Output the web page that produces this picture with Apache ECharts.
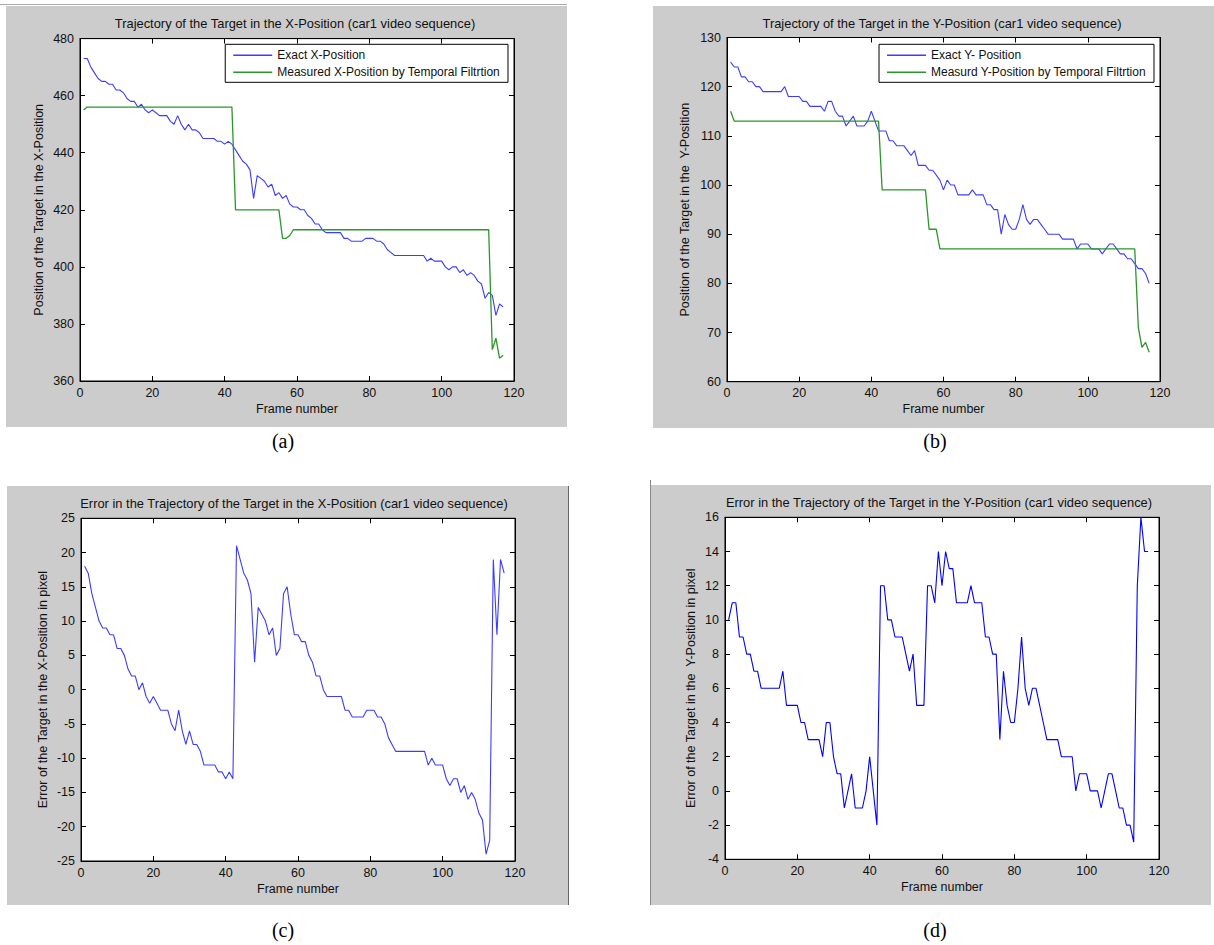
<!DOCTYPE html>
<html><head><meta charset="utf-8">
<script src="https://cdn.jsdelivr.net/npm/echarts@6/dist/echarts.min.js"></script>
<style>html,body{margin:0;padding:0;background:#fff;}#c{width:1214px;height:945px;}</style>
</head><body><div id="c"></div>
<script>
// ---------------- data ----------------
const frames = [1,2,3,4,5,6,7,8,9,10,11,12,13,14,15,16,17,18,19,20,
21,22,23,24,25,26,27,28,29,30,31,32,33,34,35,36,37,38,39,40,
41,42,43,44,45,46,47,48,49,50,51,52,53,54,55,56,57,58,59,60,
61,62,63,64,65,66,67,68,69,70,71,72,73,74,75,76,77,78,79,80,
81,82,83,84,85,86,87,88,89,90,91,92,93,94,95,96,97,98,99,100,
101,102,103,104,105,106,107,108,109,110,111,112,113,114,115,116,117];

const exactX = [473,473,470,468,466,465,465,464,464,462,
462,461,459,458,458,456,457,455,454,455,
454,453,453,453,451,450,453,450,448,450,
448,448,447,445,445,445,445,444,444,443,
444,443,441,439,437,436,434,424,432,431,
430,428,429,425,426,424,425,422,421,421,
420,420,418,417,415,415,413,412,412,412,
412,412,410,410,409,409,409,409,410,410,
410,409,409,408,406,405,404,404,404,404,
404,404,404,404,404,402,403,402,402,402,
400,399,400,400,398,399,397,398,397,395,
394,389,391,390,383,387,386];

const measuredX = [455,456,456,456,456,456,456,456,456,456,
456,456,456,456,456,456,456,456,456,456,
456,456,456,456,456,456,456,456,456,456,
456,456,456,456,456,456,456,456,456,456,
456,456,420,420,420,420,420,420,420,420,
420,420,420,420,420,410,410,411,413,413,
413,413,413,413,413,413,413,413,413,413,
413,413,413,413,413,413,413,413,413,413,
413,413,413,413,413,413,413,413,413,413,
413,413,413,413,413,413,413,413,413,413,
413,413,413,413,413,413,413,413,413,413,
413,413,413,371,375,368,369];

const exactY = [125,124,124,122,122,121,121,120,120,119,
119,119,119,119,119,120,118,118,118,118,
117,117,116,116,116,116,115,117,117,115,
114,114,112,113,114,112,112,112,113,115,
113,111,111,111,109,109,108,108,108,107,
106,107,104,104,104,103,103,102,101,99,
101,100,100,98,98,98,98,99,98,98,
98,96,96,95,95,90,94,92,91,91,
93,96,93,92,93,93,92,91,90,90,
90,90,89,89,89,89,87,88,88,88,
87,87,87,86,87,88,88,87,86,86,
85,85,84,83,83,82,80];

const measuredY = [115,113,113,113,113,113,113,113,113,113,
113,113,113,113,113,113,113,113,113,113,
113,113,113,113,113,113,113,113,113,113,
113,113,113,113,113,113,113,113,113,113,
113,113,99,99,99,99,99,99,99,99,
99,99,99,99,99,91,91,91,87,87,
87,87,87,87,87,87,87,87,87,87,
87,87,87,87,87,87,87,87,87,87,
87,87,87,87,87,87,87,87,87,87,
87,87,87,87,87,87,87,87,87,87,
87,87,87,87,87,87,87,87,87,87,
87,87,87,71,67,68,66];

const errorX = [18,17,14,12,10,9,9,8,8,6,
6,5,3,2,2,0,1,-1,-2,-1,
-2,-3,-3,-3,-5,-6,-3,-6,-8,-6,
-8,-8,-9,-11,-11,-11,-11,-12,-12,-13,
-12,-13,21,19,17,16,14,4,12,11,
10,8,9,5,6,14,15,11,8,8,
7,7,5,4,2,2,0,-1,-1,-1,
-1,-1,-3,-3,-4,-4,-4,-4,-3,-3,
-3,-4,-4,-5,-7,-8,-9,-9,-9,-9,
-9,-9,-9,-9,-9,-11,-10,-11,-11,-11,
-13,-14,-13,-13,-15,-14,-16,-15,-16,-18,
-19,-24,-22,19,8,19,17];

const errorY = [10,11,11,9,9,8,8,7,7,6,
6,6,6,6,6,7,5,5,5,5,
4,4,3,3,3,3,2,4,4,2,
1,1,-1,0,1,-1,-1,-1,0,2,
0,-2,12,12,10,10,9,9,9,8,
7,8,5,5,5,12,12,11,14,12,
14,13,13,11,11,11,11,12,11,11,
11,9,9,8,8,3,7,5,4,4,
6,9,6,5,6,6,5,4,3,3,
3,3,2,2,2,2,0,1,1,1,
0,0,0,-1,0,1,1,0,-1,-1,
-2,-2,-3,12,16,14,14];

// tick ranges [min, max, interval]
const xTicks  = [0, 120, 20];
const yTicksA = [360, 480, 20];
const yTicksB = [60, 130, 10];
const yTicksC = [-25, 25, 5];
const yTicksD = [-4, 16, 2];

const titles = [
  'Trajectory of the Target in the X-Position (car1 video sequence)',
  'Trajectory of the Target in the Y-Position (car1 video sequence)',
  'Error in the Trajectory of the Target in the X-Position (car1 video sequence)',
  'Error in the Trajectory of the Target in the Y-Position (car1 video sequence)'
];
const yNames = [
  'Position of the Target in the X-Position',
  'Position of the Target in the  Y-Position',
  'Error of the Target in the X-Position in pixel',
  'Error of the Target in the  Y-Position in pixel'
];
const xName = 'Frame number';
const panelLabels = ['(a)', '(b)', '(c)', '(d)'];
const seriesNames = ['Exact X-Position', 'Measured X-Position by Temporal Filtrtion',
  'Exact Y- Position', 'Measurd Y-Position by Temporal Filtrtion',
  'Error X', 'Error Y'];

// ---------------- layout ----------------
const FONT = '"Liberation Sans", Arial, Helvetica, sans-serif';
const TXT = '#111';
const layout = [
  { bg:[6,6,561,421],   grid:{left:80,  top:38.6,  width:434, height:342.4}, y:yTicksA, yGap:35, title:[295,23.3],  label:[283,441] },
  { bg:[653,6,561,422], grid:{left:727, top:37.5,  width:433, height:344.2}, y:yTicksB, yGap:36, title:[942,23.3],  label:[935,441] },
  { bg:[7,486,561,419], grid:{left:81,  top:518.3, width:434, height:342.7}, y:yTicksC, yGap:32, title:[294,503],   label:[283,930] },
  { bg:[650,485,561,420], grid:{left:725, top:517.3, width:434, height:342}, y:yTicksD, yGap:27.5, title:[939,502.7], label:[935,930] }
];

const grids = [], xAxes = [], yAxes = [], graphics = [];
layout.forEach((p, i) => {
  graphics.push({ type:'rect', z:-10, silent:true,
    shape:{ x:p.bg[0], y:p.bg[1], width:p.bg[2], height:p.bg[3] },
    style:{ fill:'#cccccc' } });
  graphics.push({ type:'rect', z:-9, silent:true,
    shape:{ x:p.grid.left, y:p.grid.top, width:p.grid.width, height:p.grid.height },
    style:{ fill:'#ffffff', stroke:'#000', lineWidth:1 } });
  graphics.push({ type:'text', silent:true,
    style:{ text:titles[i], x:p.title[0], y:p.title[1], align:'center', verticalAlign:'middle',
      font:'12.9px ' + FONT, fill:TXT } });
  graphics.push({ type:'text', silent:true,
    style:{ text:panelLabels[i], x:p.label[0], y:p.label[1], align:'center', verticalAlign:'middle',
      font:'20px "Liberation Serif", "Times New Roman", serif', fill:'#000' } });
  grids.push(Object.assign({ outerBoundsMode:'none', containLabel:false }, p.grid));
  const axLine = { show:true, onZero:false, lineStyle:{ color:'#000', width:1 } };
  const tick = { show:true, inside:true, length:5, lineStyle:{ color:'#000', width:1 } };
  xAxes.push({ type:'value', gridIndex:i, position:'bottom', min:xTicks[0], max:xTicks[1], interval:xTicks[2],
    axisLine:axLine, axisTick:tick, splitLine:{show:false},
    axisLabel:{ color:TXT, fontSize:12.5, fontFamily:FONT, margin:5 },
    name:xName, nameLocation:'middle', nameGap:21,
    nameTextStyle:{ color:TXT, fontSize:12.5, fontFamily:FONT } });
  xAxes.push({ type:'value', gridIndex:i, position:'top', min:xTicks[0], max:xTicks[1], interval:xTicks[2],
    axisLine:axLine, axisTick:tick, splitLine:{show:false}, axisLabel:{show:false} });
  yAxes.push({ type:'value', gridIndex:i, position:'left', min:p.y[0], max:p.y[1], interval:p.y[2],
    axisLine:axLine, axisTick:tick, splitLine:{show:false},
    axisLabel:{ color:TXT, fontSize:12.5, fontFamily:FONT, margin:6 },
    name:yNames[i], nameLocation:'middle', nameGap:p.yGap, nameRotate:90,
    nameTextStyle:{ color:TXT, fontSize:12.5, fontFamily:FONT } });
  yAxes.push({ type:'value', gridIndex:i, position:'right', min:p.y[0], max:p.y[1], interval:p.y[2],
    axisLine:axLine, axisTick:tick, splitLine:{show:false}, axisLabel:{show:false} });
});

// screenshot edge lines
graphics.push({ type:'line', silent:true, shape:{x1:0,y1:4.5,x2:567,y2:4.5}, style:{stroke:'#aaaaaa', lineWidth:1} });
graphics.push({ type:'line', silent:true, shape:{x1:568.5,y1:486,x2:568.5,y2:905}, style:{stroke:'#666666', lineWidth:1} });
graphics.push({ type:'line', silent:true, shape:{x1:650.5,y1:480,x2:650.5,y2:905}, style:{stroke:'#888888', lineWidth:1} });

const BLUE = '#3c3cff', GREEN = '#2a962a';
function mk(name, arr, gi, color, width) {
  return { name, type:'line', xAxisIndex:gi*2, yAxisIndex:gi*2,
    data: frames.map((f, k) => [f, arr[k]]),
    showSymbol:false, symbol:'none', smooth:false, color,
    lineStyle:{ color, width }, emphasis:{disabled:true}, z:3 };
}
const series = [
  mk(seriesNames[0], exactX, 0, BLUE, 1.1),
  mk(seriesNames[1], measuredX, 0, GREEN, 1.3),
  mk(seriesNames[2], exactY, 1, BLUE, 1.1),
  mk(seriesNames[3], measuredY, 1, GREEN, 1.3),
  mk(seriesNames[4], errorX, 2, BLUE, 1.1),
  mk(seriesNames[5], errorY, 3, '#0000ff', 1.1)
];

const legendBase = { orient:'vertical', top:44.3, itemGap:5, itemWidth:39, itemHeight:1.5, icon:'rect',
  padding:[5,8,4,8], backgroundColor:'#fff', borderColor:'#000', borderWidth:1, borderRadius:0,
  selectedMode:false, textStyle:{ color:TXT, fontSize:12, fontFamily:FONT } };

const option = {
  animation:false,
  backgroundColor:'#ffffff',
  grid:grids, xAxis:xAxes, yAxis:yAxes, series,
  legend:[
    Object.assign({}, legendBase, { right:706, data:[seriesNames[0], seriesNames[1]] }),
    Object.assign({}, legendBase, { right:60, data:[seriesNames[2], seriesNames[3]] })
  ],
  graphic:graphics
};
const chart = echarts.init(document.getElementById('c'), null, { renderer:'svg' });
chart.setOption(option);
</script></body></html>
